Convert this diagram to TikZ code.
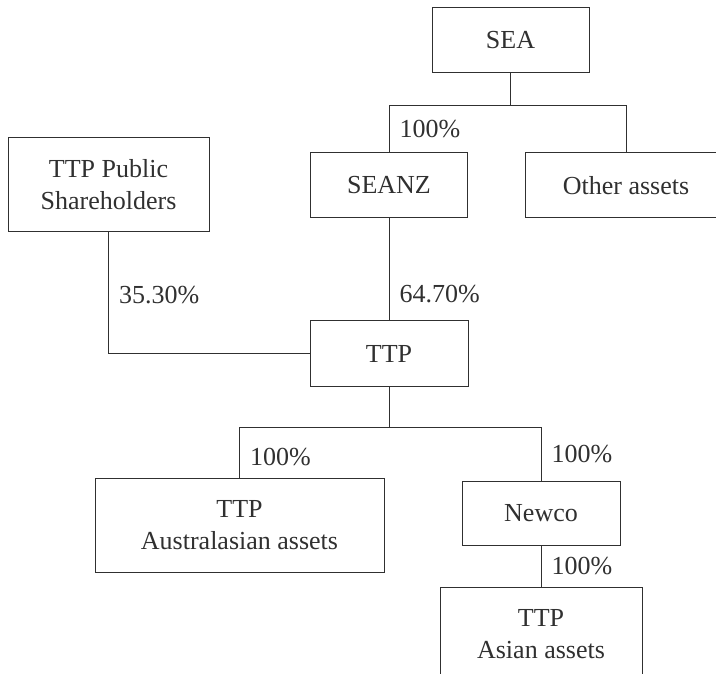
\documentclass[tikz,border=0pt]{standalone}
\usepackage{fontspec}
\setmainfont{Liberation Serif}
\definecolor{ink}{HTML}{303030}

\begin{document}
\begin{tikzpicture}[x=1pt,y=-1pt,every node/.style={font=\fontsize{26}{32}\selectfont,text=ink},
  box/.style={draw=ink,line width=1pt,rectangle,align=center,inner sep=0pt},
  pct/.style={anchor=west,inner sep=0pt,xshift=10pt},
  link/.style={draw=ink,line width=1pt}]
\useasboundingbox (0,0) rectangle (716,674);
% companies
\node[box,minimum width=157,minimum height=65] (sea) at (510.5,40.5){SEA};
\node[box,minimum width=157,minimum height=65] (seanz) at (389,185.5){SEANZ};
\node[box,minimum width=202,minimum height=65] (other) at (626,185.5){Other assets};
\node[box,minimum width=201,minimum height=94] (public) at (108.5,185){TTP Public\\Shareholders};
\node[box,minimum width=158,minimum height=65] (ttp) at (389,353.5){TTP};
\node[box,minimum width=289,minimum height=94] (aus) at (239.5,525){TTP\\Australasian assets};
\node[box,minimum width=158,minimum height=64] (newco) at (541,513){Newco};
\node[box,minimum width=202,minimum height=94] (asian) at (541,634){TTP\\Asian assets};
% ownership
\draw[link] (sea.south) -- ++(0,32) coordinate (j1);
\draw[link] (seanz.north) |- (j1) node[pct,pos=0.25]{100\%};
\draw[link] (j1) -| (other.north);
\draw[link] (seanz.south) -- (ttp.north) node[pct,pos=0.74]{64.70\%};
\draw[link] (public.south) |- (ttp.west) node[pct,pos=0.26]{35.30\%};
\draw[link] (ttp.south) -- ++(0,41) coordinate (j2);
\draw[link] (aus.north) |- (j2) node[pct,pos=0.2]{100\%};
\draw[link] (newco.north) |- (j2) node[pct,pos=0.25]{100\%};
\draw[link] (newco.south) -- (asian.north) node[pct,midway]{100\%};
\end{tikzpicture}
\end{document}
